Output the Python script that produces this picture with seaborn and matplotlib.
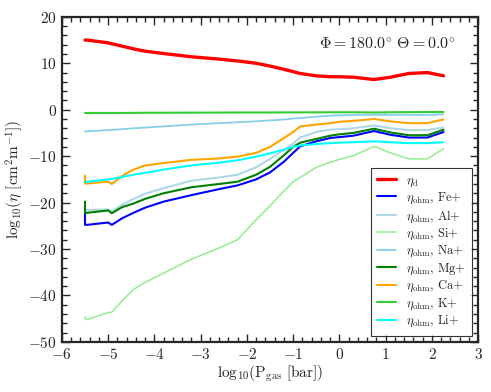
import pandas as pd
import seaborn as sns
import matplotlib.pyplot as plt
from matplotlib.ticker import MultipleLocator

# log10 gas pressure grid (first point repeated: the curves start with a short vertical step)
log_p = [-5.5, -5.5, -5.45, -5.0, -4.92, -4.7, -4.45, -4.2, -3.8, -3.2, -2.6, -2.2, -1.8,
         -1.5, -1.2, -1.0, -0.85, -0.5, -0.2, 0.0, 0.3, 0.75, 1.1, 1.5, 1.9, 2.25]

eta_d = [15.0, 15.0, 15.0, 14.4, 14.2, 13.7, 13.1, 12.6, 12.1, 11.4, 10.9, 10.5, 10.0,
         9.4, 8.7, 8.2, 7.8, 7.3, 7.1, 7.1, 7.0, 6.5, 7.0, 7.8, 8.0, 7.3]
eta_fe = [-22.3, -24.8, -24.8, -24.3, -24.8, -23.4, -22.2, -21.1, -19.8, -18.4, -17.1, -16.3, -15.0,
          -13.5, -11.2, -9.3, -7.9, -6.8, -6.1, -5.9, -5.6, -4.6, -5.4, -6.0, -6.0, -4.8]
eta_al = [-21.6, -21.6, -21.6, -21.5, -21.9, -20.5, -19.2, -18.1, -16.9, -15.3, -14.6, -14.0, -12.4,
          -10.6, -8.7, -7.3, -6.0, -4.8, -4.3, -4.2, -4.0, -3.4, -4.0, -4.4, -4.4, -3.8]
eta_si = [-44.6, -45.0, -45.2, -43.7, -43.6, -41.2, -38.7, -37.2, -35.2, -32.2, -29.8, -28.0, -23.7,
          -20.7, -17.5, -15.5, -14.6, -12.4, -11.3, -10.7, -9.9, -7.9, -9.3, -10.6, -10.6, -8.4]
eta_na = [-4.7, -4.7, -4.65, -4.4, -4.35, -4.2, -4.0, -3.85, -3.6, -3.2, -2.9, -2.7, -2.5,
          -2.3, -2.1, -1.9, -1.8, -1.5, -1.3, -1.2, -1.15, -1.1, -1.1, -1.1, -1.1, -1.0]
eta_mg = [-19.8, -22.3, -22.2, -21.7, -22.3, -21.0, -20.2, -19.2, -18.0, -16.7, -16.0, -15.5, -14.0,
          -12.3, -9.8, -8.0, -7.1, -6.3, -5.6, -5.3, -5.0, -4.1, -4.9, -5.5, -5.5, -4.3]
eta_ca = [-14.2, -15.9, -15.9, -15.5, -16.0, -14.3, -12.9, -12.0, -11.5, -10.8, -10.5, -10.1, -9.3,
          -8.0, -6.1, -4.8, -3.6, -3.2, -2.9, -2.6, -2.4, -2.0, -2.5, -2.9, -2.9, -2.1]
eta_k = [-0.7, -0.7, -0.7, -0.7, -0.7, -0.7, -0.68, -0.66, -0.65, -0.63, -0.62, -0.6, -0.6,
         -0.6, -0.58, -0.58, -0.58, -0.57, -0.56, -0.55, -0.55, -0.6, -0.55, -0.52, -0.5, -0.5]
eta_li = [-15.6, -15.6, -15.5, -15.0, -14.9, -14.5, -14.0, -13.6, -12.9, -12.0, -11.4, -10.9, -10.1,
          -9.4, -8.6, -8.0, -7.7, -7.4, -7.2, -7.1, -7.0, -6.8, -7.0, -7.2, -7.2, -7.0]

series = [
    (r"$\eta_{\rm d}$", eta_d, "red", 2.4),
    (r"$\eta_{\rm ohm}$, Fe+", eta_fe, "blue", 1.5),
    (r"$\eta_{\rm ohm}$, Al+", eta_al, "lightblue", 1.5),
    (r"$\eta_{\rm ohm}$, Si+", eta_si, "lightgreen", 1.1),
    (r"$\eta_{\rm ohm}$, Na+", eta_na, "skyblue", 1.3),
    (r"$\eta_{\rm ohm}$, Mg+", eta_mg, "green", 1.5),
    (r"$\eta_{\rm ohm}$, Ca+", eta_ca, "orange", 1.5),
    (r"$\eta_{\rm ohm}$, K+", eta_k, "limegreen", 1.5),
    (r"$\eta_{\rm ohm}$, Li+", eta_li, "cyan", 1.5),
]

sns.set_style("ticks")
plt.rcParams["font.family"] = "serif"
plt.rcParams["font.serif"] = ["cmr10", "DejaVu Serif"]
plt.rcParams["mathtext.fontset"] = "cm"
plt.rcParams["axes.formatter.use_mathtext"] = True
plt.rcParams["font.size"] = 11

fig = plt.figure(figsize=(4.91, 3.92), dpi=100)
ax = fig.add_axes([0.126, 0.128, 0.848, 0.829])

for label, vals, color, lw in series:
    df = pd.DataFrame({"log_p": log_p, "eta": vals})
    sns.lineplot(data=df, x="log_p", y="eta", ax=ax, color=color, linewidth=lw,
                 label=label, sort=False, estimator=None)

ax.set_xlim(-6, 3)
ax.set_ylim(-50, 20)
ax.xaxis.set_major_locator(MultipleLocator(1))
ax.xaxis.set_minor_locator(MultipleLocator(0.2))
ax.yaxis.set_major_locator(MultipleLocator(10))
ax.yaxis.set_minor_locator(MultipleLocator(2))
ax.tick_params(which="both", direction="in", top=True, right=True, labelsize=11)
ax.tick_params(which="major", length=6, width=1)
ax.tick_params(which="minor", length=3.5, width=1)
for sp in ax.spines.values():
    sp.set_linewidth(1.6)

ax.set_xlabel(r"$\mathrm{log}_{10}(\rm P_{gas}\ [bar])$", fontsize=11, labelpad=1)
ax.set_ylabel(r"$\mathrm{log}_{10}(\eta\ [\rm cm^2 m^{-1}])$", fontsize=11, labelpad=2)

ax.text(0.945, 0.915, r"$\Phi = 180.0^{\circ}\ \Theta = 0.0^{\circ}$", transform=ax.transAxes,
        ha="right", va="center", fontsize=11.5)

leg = ax.legend(loc="lower right", fontsize=9, fancybox=False, frameon=True,
                handlelength=1.5, labelspacing=0.17, borderpad=0.5)
leg.get_frame().set_edgecolor("black")
leg.get_frame().set_linewidth(0.8)

fig.savefig("out.png", dpi=100)
